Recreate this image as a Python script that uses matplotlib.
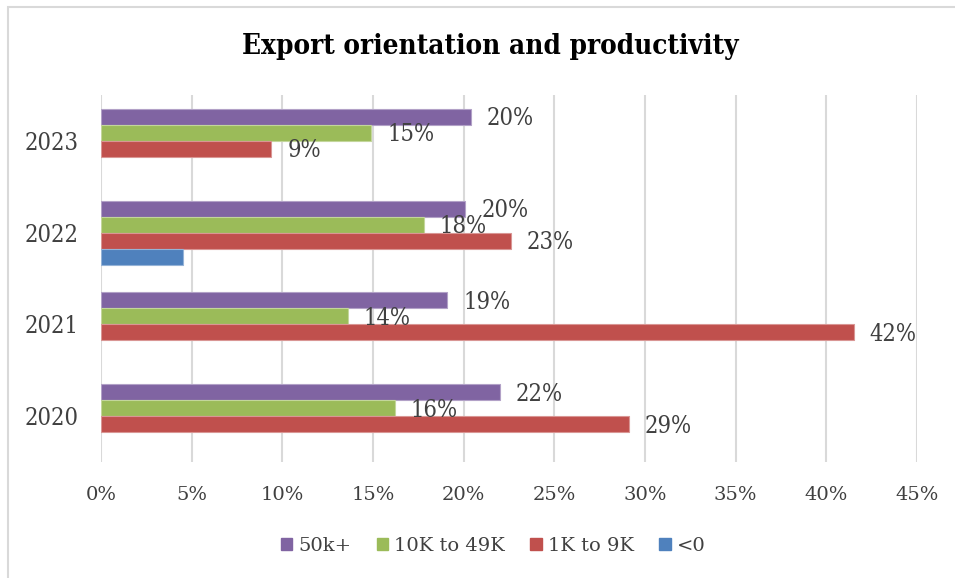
import matplotlib
matplotlib.use("Agg")
import matplotlib.pyplot as plt
from matplotlib.patches import Rectangle, Patch
from matplotlib.ticker import FuncFormatter, MultipleLocator
from matplotlib.font_manager import FontProperties

# Data (shares, in percent)
years = ["2020", "2021", "2022", "2023"]
series_names = ["50k+", "10K to 49K", "1K to 9K", "<0"]
share_50k = [22.0, 19.1, 20.1, 20.4]
share_10k_49k = [16.2, 13.6, 17.8, 14.9]
share_1k_9k = [29.1, 41.5, 22.6, 9.4]
share_neg = [None, None, 4.5, None]
labelled = [True, True, True, False]

colors = ["#8064A2", "#9BBB59", "#C0504D", "#4F81BD"]
edges = ["#B2A1C7", "#C3D69B", "#D99694", "#95B3D7"]
text_color = "#404040"
grid_color = "#D9D9D9"


def serif(size, weight="normal", stretch="condensed"):
    return FontProperties(family=["DejaVu Serif"], stretch=stretch,
                          size=size, weight=weight)


W, H = 955, 578
fig = plt.figure(figsize=(W / 100, H / 100), dpi=100)
fig.patch.set_facecolor("white")

# chart border (light gray frame)
fig.patches.append(Rectangle((8 / W, -0.1), 1.2, 1 - 7 / H + 0.1,
                             transform=fig.transFigure, fill=False,
                             edgecolor=grid_color, linewidth=1.5))

left, right, top, bottom = 101, 917, 95, 462
ax = fig.add_axes([left / W, 1 - bottom / H, (right - left) / W, (bottom - top) / H])

all_series = [share_50k, share_10k_49k, share_1k_9k, share_neg]
bar_h = 16 / 92
for i, (vals, col, ec, lab) in enumerate(zip(all_series, colors, edges, labelled)):
    offset = (1.5 - i) * bar_h
    for j, v in enumerate(vals):
        if v is None:
            continue
        y = j + offset
        ax.barh(y, v, height=bar_h, color=col, edgecolor=ec, linewidth=0.8, zorder=3)
        if lab:
            ax.annotate(f"{round(v):d}%", xy=(v, y), xytext=(16, -2),
                        textcoords="offset pixels",
                        ha="left", va="center", fontproperties=serif(17),
                        color=text_color, zorder=4)

ax.set_xlim(0, 45)
ax.set_ylim(-0.5, 3.5)
ax.xaxis.set_major_locator(MultipleLocator(5))
ax.xaxis.set_major_formatter(FuncFormatter(lambda x, p: f"{x:.0f}%"))
ax.set_yticks(range(len(years)))
ax.set_yticklabels(years)
ax.grid(axis="x", color=grid_color, linewidth=1.5, zorder=0)
ax.set_axisbelow(True)
for s in ax.spines.values():
    s.set_visible(False)
ax.tick_params(axis="both", length=0, colors=text_color)
ax.tick_params(axis="x", pad=17)
ax.tick_params(axis="y", pad=16)
for t in ax.get_xticklabels():
    t.set_fontproperties(serif(14, stretch="normal"))
for t in ax.get_yticklabels():
    t.set_fontproperties(serif(17))

fig.text(490 / W, 1 - 47 / H, "Export orientation and productivity",
         ha="center", va="center", fontproperties=serif(20, "bold"),
         color="black")

handles = [Patch(facecolor=c, edgecolor=c) for c in colors]
leg = fig.legend(handles, series_names, loc="center", bbox_to_anchor=(493 / W, 1 - 546 / H),
                 ncol=4, frameon=False, handlelength=0.6, handleheight=0.6,
                 handletextpad=0.3, columnspacing=1.3,
                 prop=serif(14, stretch="normal"))
for t in leg.get_texts():
    t.set_color(text_color)

fig.savefig("out.png", dpi=100)
